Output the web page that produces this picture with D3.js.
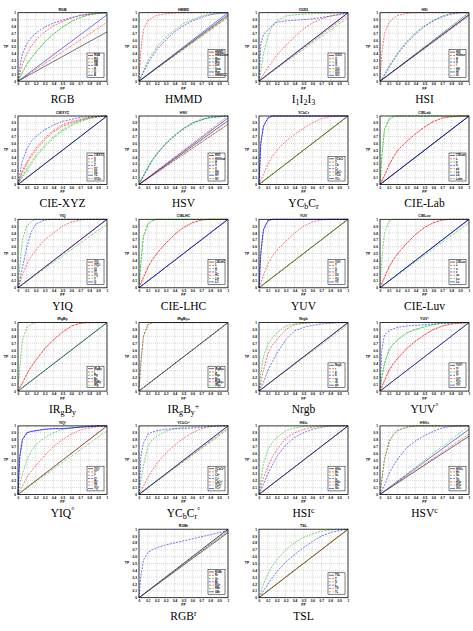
<!DOCTYPE html>
<html><head><meta charset="utf-8">
<script src="https://cdn.jsdelivr.net/npm/d3@7"></script>
<style>body{margin:0;background:#fff}</style></head>
<body>
<svg id="c" width="473" height="631"></svg>
<script>
// shared false-positive grid
const X = [0,.02,.05,.1,.15,.2,.3,.4,.5,.6,.7,.8,.9,1];
const xTicks = [0,.1,.2,.3,.4,.5,.6,.7,.8,.9,1];
const tickLabels = ["0","0.1","0.2","0.3","0.4","0.5","0.6","0.7","0.8","0.9","1"];

const titles = ["RGB","HMMD","I1I2I3","HSI","CIEXYZ","HSV","YCbCr","CIELab","YIQ","CIELHC","YUV","CIELuv",
  "IRgBy","IRgBy+","Nrgb","YUV°","YIQ°","YCbCr°","HSIc","HSVc","RGBr","TSL"];
const captions = ["RGB","HMMD","I_1I_2I_3","HSI","CIE-XYZ","HSV","YC_bC_r","CIE-Lab","YIQ","CIE-LHC","YUV","CIE-Luv",
  "IR_gB_y","IR_gB_y^+","Nrgb","YUV^°","YIQ^°","YC_bC_r^°","HSI^c","HSV^c","RGB^r","TSL"];

// diagonal reference
const D   = [0,.02,.05,.1,.15,.2,.3,.4,.5,.6,.7,.8,.9,1];
const D97 = [0,.019,.049,.097,.146,.194,.291,.388,.485,.582,.679,.776,.873,.97];
const D95 = [0,.019,.048,.095,.143,.19,.285,.38,.475,.57,.665,.76,.855,.95];
const D93 = [0,.019,.047,.093,.14,.186,.279,.372,.465,.558,.651,.744,.837,.93];
const D88 = [0,.018,.044,.088,.132,.176,.264,.352,.44,.528,.616,.704,.792,.88];
const D85 = [0,.017,.043,.085,.128,.17,.255,.34,.425,.51,.595,.68,.765,.85];

const rgbLabels = ["RGB","RG","RB","GB","R","G","B"];
const rgbY = [
  [0,.014,.036,.072,.108,.144,.216,.288,.36,.432,.504,.576,.648,.72],
  [0,.1,.25,.4,.51,.6,.72,.81,.87,.92,.96,.98,.99,1],
  [0,.05,.13,.25,.34,.42,.57,.69,.79,.87,.93,.97,.99,1],
  [0,.2,.4,.55,.64,.7,.79,.85,.89,.93,.96,.98,.99,1],
  [0,.017,.043,.086,.129,.172,.258,.344,.43,.516,.602,.688,.774,.86],
  [0,.05,.13,.25,.34,.42,.57,.69,.79,.87,.93,.97,.99,1],
  D97];
const hmmdLabels = ["HMMD","HMMDhue","Max","Min","Diff","Sum","Hue","HMMDCC"];
const hmmdY = [D97,
  [0,.45,.75,.88,.93,.96,.985,.995,1,1,1,1,1,1],
  [0,.06,.15,.3,.4,.5,.64,.75,.84,.9,.95,.98,.99,1],
  [0,.05,.13,.26,.36,.46,.6,.72,.81,.88,.93,.97,.99,1],
  D93, D95, D, D95];
const i123Labels = ["I1I2I3","I1","I2","I3","I1I2","I1I3","I2I3"];
const i123Y = [D,
  [0,.04,.1,.2,.29,.38,.52,.65,.76,.85,.91,.95,.98,1],
  [0,.15,.4,.65,.8,.88,.95,.97,.98,.985,.99,.99,.995,1],
  [0,.55,.68,.75,.82,.86,.88,.89,.9,.91,.93,.95,.97,1],
  D97, D93, D];
const hsiLabels = ["HSI","HSIhue","H","S","I","HS","HI","SI"];
const hsiY = [D97,
  [0,.4,.7,.85,.92,.96,.99,1,1,1,1,1,1,1],
  [0,.04,.1,.22,.32,.42,.58,.71,.81,.89,.95,.99,1,1],
  [0,.03,.08,.2,.3,.4,.56,.69,.8,.88,.94,.98,1,1],
  D95, D, D97, D];
const xyzLabels = ["CIEXYZ","X","Y","Z","XY","XZ","YZ","XYZn"];
const xyzY = [D,
  [0,.08,.18,.3,.41,.5,.65,.77,.85,.9,.94,.97,.99,1],
  [0,.05,.11,.2,.3,.4,.55,.68,.78,.86,.92,.96,.99,1],
  [0,.15,.35,.52,.63,.7,.8,.87,.92,.95,.98,.99,1,1],
  [0,.09,.2,.33,.44,.53,.68,.79,.87,.92,.95,.98,.99,1],
  [0,.06,.13,.23,.33,.43,.58,.7,.8,.88,.93,.97,.99,1],
  D, D];
const hsvLabels = ["HSV","HSVhue","H","S","V","HS","HV","SV"];
const hsvY = [D93, D88,
  [0,.05,.13,.25,.36,.45,.6,.72,.82,.9,.95,.98,.99,1],
  [0,.05,.12,.24,.35,.44,.59,.71,.81,.89,.94,.98,.99,1],
  D,
  [0,.05,.13,.25,.36,.45,.6,.72,.82,.9,.95,.98,.99,1],
  D97, D88];
const ycbcrLabels = ["YCbCr","Y","Cb","Cr","CbCr","YCb","YCr"];
const ycbcrY = [D,
  [0,.06,.15,.3,.41,.5,.63,.73,.82,.9,.96,.99,1,1],
  D,
  [0,.6,.85,.97,1,1,1,1,1,1,1,1,1,1],
  D, D,
  [0,.6,.85,.97,1,1,1,1,1,1,1,1,1,1]];
const labLabels = ["CIELab","L","a","b","ab","La","Lb","Labn"];
const labY = [D,
  [0,.05,.13,.28,.4,.5,.63,.74,.84,.92,.97,.99,1,1],
  [0,.4,.8,.95,.99,1,1,1,1,1,1,1,1,1],
  D,
  [0,.05,.13,.28,.4,.5,.63,.74,.84,.92,.97,.99,1,1],
  [0,.4,.8,.95,.99,1,1,1,1,1,1,1,1,1],
  D, D];
const yiqLabels = ["YIQ","YIQ-I","IQ","YI","YQ","Y","Q"];
const yiqY = [D,
  [0,.07,.18,.35,.46,.55,.7,.8,.9,.96,.99,1,1,1],
  [0,.3,.7,.9,.97,1,1,1,1,1,1,1,1,1],
  [0,.1,.3,.6,.82,.93,.99,1,1,1,1,1,1,1],
  D, D93, D];
const lhcLabels = ["CIELHC","L","H","C","HC","LH","LC"];
const lhcY = [D,
  [0,.06,.15,.3,.41,.5,.65,.78,.88,.95,.99,1,1,1],
  [0,.35,.75,.93,.98,1,1,1,1,1,1,1,1,1],
  D,
  [0,.06,.15,.3,.41,.5,.65,.78,.88,.95,.99,1,1,1],
  [0,.35,.75,.93,.98,1,1,1,1,1,1,1,1,1],
  D];
const yuvLabels = ["YUV","Y","U","V","UV","YU","YV"];
const yuvY = [D,
  [0,.07,.18,.35,.46,.55,.68,.8,.9,.96,.99,1,1,1],
  D,
  [0,.5,.85,.98,1,1,1,1,1,1,1,1,1,1],
  D, D,
  [0,.5,.85,.98,1,1,1,1,1,1,1,1,1,1]];
const luvLabels = ["CIELuv","L","u","v","uv","Lu","Lv"];
const luvY = [D,
  [0,.06,.15,.3,.41,.5,.65,.78,.88,.95,.99,1,1,1],
  [0,.4,.8,.97,1,1,1,1,1,1,1,1,1,1],
  D,
  [0,.06,.15,.3,.41,.5,.65,.78,.88,.95,.99,1,1,1],
  D95, D];
const irgbyLabels = ["IRgBy","I","Rg","By","RgBy","IRg"];
const irgbyY = [D,
  [0,.05,.12,.25,.36,.45,.62,.75,.86,.95,.99,1,1,1],
  [0,.35,.75,.93,.98,1,1,1,1,1,1,1,1,1],
  D,
  [0,.05,.12,.25,.36,.45,.62,.75,.86,.95,.99,1,1,1],
  D];
const irgbypLabels = ["IRgBy+","I+","Rg+","By+","RgBy+","IRg+"];
const irgbypY = [D, D,
  [0,.4,.8,.97,1,1,1,1,1,1,1,1,1,1],
  D,
  [0,.4,.8,.97,1,1,1,1,1,1,1,1,1,1],
  D];
const nrgbLabels = ["Nrgb","r","g","b","rg","rb","gb"];
const nrgbY = [D,
  [0,.12,.3,.55,.67,.75,.9,.97,.99,1,1,1,1,1],
  [0,.25,.5,.68,.78,.85,.95,.98,.99,1,1,1,1,1],
  [0,.05,.13,.3,.43,.55,.75,.88,.93,.96,.98,.99,1,1],
  D, D97, D];
const yuvoLabels = ["YUV°","Y°","U°","V°","UV°","YU°","YV°"];
const yuvoY = [D,
  [0,.06,.15,.3,.4,.48,.62,.73,.82,.9,.95,.98,.99,1],
  [0,.2,.4,.6,.69,.75,.85,.9,.94,.97,.99,1,1,1],
  [0,.6,.82,.88,.91,.93,.95,.96,.97,.98,.99,.99,1,1],
  [0,.06,.15,.3,.4,.48,.62,.73,.82,.9,.95,.98,.99,1],
  [0,.2,.4,.6,.69,.75,.85,.9,.94,.97,.99,1,1,1],
  D];
const yiqoLabels = ["YIQ°","Y°","I°","Q°","IQ°","YI°","YQ°"];
const yiqoY = [D,
  [0,.05,.12,.25,.34,.42,.57,.7,.8,.88,.94,.97,.99,1],
  [0,.15,.3,.5,.63,.73,.83,.9,.95,.97,.99,1,1,1],
  [0,.55,.8,.9,.92,.93,.95,.96,.96,.97,.98,.99,1,1],
  D, D93,
  [0,.55,.8,.9,.92,.93,.95,.96,.96,.97,.98,.99,1,1]];
const ycbcroLabels = ["YCbCr°","Y°","Cb°","Cr°","CbCr°","YCb°","YCr°"];
const ycbcroY = [D,
  [0,.05,.12,.25,.35,.45,.6,.72,.82,.9,.96,.99,1,1],
  [0,.2,.42,.7,.8,.85,.92,.96,.98,.99,1,1,1,1],
  [0,.55,.75,.88,.91,.93,.95,.96,.96,.97,.98,.99,1,1],
  D97, D95, D];
const hsicLabels = ["HSIc","Hc","Sc","Ic","HSc","HIc","SIc"];
const hsicY = [D,
  [0,.1,.25,.4,.55,.65,.82,.9,.95,.98,1,1,1,1],
  [0,.2,.45,.65,.76,.83,.93,.97,.99,1,1,1,1,1],
  [0,.06,.15,.3,.43,.55,.72,.83,.9,.95,.98,1,1,1],
  D, D, D];
const hsvcLabels = ["HSVc","Hc","Sc","Vc","HSc","HVc","SVc"];
const hsvcY = [D85,
  [0,.2,.5,.75,.87,.93,.98,1,1,1,1,1,1,1],
  [0,.22,.52,.77,.88,.94,.98,1,1,1,1,1,1,1],
  [0,.05,.13,.3,.42,.52,.68,.78,.86,.92,.97,.99,1,1],
  D88, D, D95];
const rgbrLabels = ["RGBr","Rr","Gr","Br","RGr","RBr","GBr"];
const rgbrY = [D95, D97, D,
  [0,.3,.55,.66,.7,.73,.77,.8,.83,.86,.89,.92,.95,.98],
  D, D97, D];
const tslLabels = ["TSL","T","S","L","TS","TL"];
const tslY = [D, D,
  [0,.08,.2,.35,.46,.55,.7,.8,.88,.93,.97,.99,1,1],
  [0,.04,.1,.2,.29,.38,.52,.63,.73,.82,.9,.95,.98,1],
  D, D];

const seriesY = [rgbY,hmmdY,i123Y,hsiY,xyzY,hsvY,ycbcrY,labY,yiqY,lhcY,yuvY,luvY,
  irgbyY,irgbypY,nrgbY,yuvoY,yiqoY,ycbcroY,hsicY,hsvcY,rgbrY,tslY];
const seriesLabels = [rgbLabels,hmmdLabels,i123Labels,hsiLabels,xyzLabels,hsvLabels,ycbcrLabels,labLabels,
  yiqLabels,lhcLabels,yuvLabels,luvLabels,irgbyLabels,irgbypLabels,nrgbLabels,yuvoLabels,
  yiqoLabels,ycbcroLabels,hsicLabels,hsvcLabels,rgbrLabels,tslLabels];

// line styles (MATLAB-like cycle)
const styles = [
  {c:"#000000", d:null},
  {c:"#ff0000", d:"2,1.2"},
  {c:"#00b000", d:"2,1.2"},
  {c:"#0000ff", d:"2,1.2"},
  {c:"#ff0000", d:"2,0.8,0.5,0.8"},
  {c:"#00cc00", d:"2,0.8,0.5,0.8"},
  {c:"#0000cc", d:null},
  {c:"#000000", d:"0.6,0.8"}
];

const svg = d3.select("#c");
const colLeft = [18,139,259,380], W = 89, H = 68.5, top0 = 12.7, pitch = 103.3;

function richText(sel, s){
  let i=0;
  const push=(t,m)=>{
    const ts = sel.append("tspan").text(t);
    if(m===1) ts.attr("font-size","0.7em").attr("baseline-shift","-25%");
    if(m===2) ts.attr("font-size","0.7em").attr("baseline-shift","45%");
  };
  while(i<s.length){
    const ch=s[i];
    if(ch==="_"){ push(s[i+1],1); i+=2; }
    else if(ch==="^"){ push(s[i+1],2); i+=2; }
    else { push(ch,0); i++; }
  }
}

titles.forEach((title,i)=>{
  const row = Math.floor(i/4);
  const col = row===5 ? (i-20+1) : i%4;
  const left = colLeft[col], top = top0 + row*pitch;
  const x = d3.scaleLinear().domain([0,1]).range([0,W]);
  const y = d3.scaleLinear().domain([0,1]).range([H,0]);
  const g = svg.append("g").attr("transform",`translate(${left},${top})`);

  // grid
  g.append("g").selectAll("line").data(xTicks.slice(1,-1)).join("line")
    .attr("x1",d=>x(d)).attr("x2",d=>x(d)).attr("y1",0).attr("y2",H)
    .attr("stroke","#999").attr("stroke-width",0.4).attr("stroke-dasharray","1,1");
  g.append("g").selectAll("line").data(xTicks.slice(1,-1)).join("line")
    .attr("y1",d=>y(d)).attr("y2",d=>y(d)).attr("x1",0).attr("x2",W)
    .attr("stroke","#999").attr("stroke-width",0.4).attr("stroke-dasharray","1,1");

  // axes
  const ax = g.append("g").attr("transform",`translate(0,${H})`)
    .call(d3.axisBottom(x).tickValues(xTicks).tickFormat((d,k)=>tickLabels[k]).tickSize(0).tickPadding(2));
  const ay = g.append("g")
    .call(d3.axisLeft(y).tickValues(xTicks).tickFormat((d,k)=>tickLabels[k]).tickSize(0).tickPadding(2));
  [ax,ay].forEach(a=>{
    a.select(".domain").remove();
    a.selectAll("text").attr("font-size",3.2).attr("font-family","Liberation Sans, Arial").attr("font-weight","bold").attr("fill","#000");
  });

  // series
  const line = d3.line().x((d,k)=>x(X[k])).y(d=>y(d));
  seriesY[i].forEach((vals,k)=>{
    const st = styles[k%styles.length];
    g.append("path").datum(vals).attr("d",line).attr("fill","none")
      .attr("stroke",st.c).attr("stroke-width",0.55)
      .attr("stroke-dasharray",st.d);
  });

  // border
  g.append("rect").attr("width",W).attr("height",H).attr("fill","none").attr("stroke","#000").attr("stroke-width",0.8);

  // title and axis labels
  g.append("text").attr("x",W/2).attr("y",-2.2).attr("text-anchor","middle")
    .attr("font-size",3.6).attr("font-weight","bold").attr("font-family","Liberation Sans, Arial").text(title);
  g.append("text").attr("x",W/2).attr("y",H+8.6).attr("text-anchor","middle")
    .attr("font-size",3.4).attr("font-weight","bold").attr("font-family","Liberation Sans, Arial").text("FP");
  g.append("text").attr("x",-12).attr("y",H/2+1).attr("text-anchor","middle")
    .attr("font-size",3.4).attr("font-weight","bold").attr("font-family","Liberation Sans, Arial").text("TP");

  // legend
  const labs = seriesLabels[i];
  const rowH = 3.3, lw = 17, lh = labs.length*rowH+1.6;
  const lx = W - lw - 3, ly = H - lh - 3.5;
  const lg = g.append("g").attr("transform",`translate(${lx},${ly})`);
  lg.append("rect").attr("width",lw).attr("height",lh).attr("fill","#fff").attr("stroke","#000").attr("stroke-width",0.5);
  labs.forEach((lab,k)=>{
    const st = styles[k%styles.length];
    const yy = 0.8 + rowH*k + rowH/2;
    lg.append("line").attr("x1",1).attr("x2",6).attr("y1",yy).attr("y2",yy)
      .attr("stroke",st.c).attr("stroke-width",0.6).attr("stroke-dasharray",st.d);
    lg.append("text").attr("x",7).attr("y",yy+1).attr("font-size",2.7).attr("font-weight","bold")
      .attr("font-family","Liberation Sans, Arial").text(lab);
  });

  // caption
  const cap = g.append("text").attr("x",W/2).attr("y",H+22.3).attr("text-anchor","middle")
    .attr("font-size",11.5).attr("font-family","Liberation Serif, Times New Roman, serif").attr("fill","#000");
  richText(cap, captions[i]);
});
</script>
</body></html>
